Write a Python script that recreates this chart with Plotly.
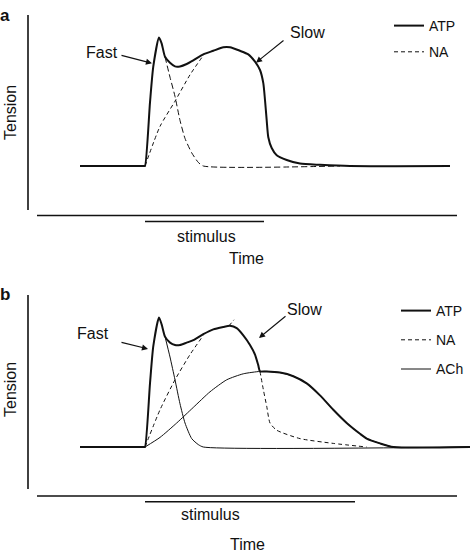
import plotly.graph_objects as go

# ---------------- data (time in arbitrary units, 0 = stimulus onset; tension in arbitrary units) -------------
# Panel a
a_total_t = [-6.5, -0.1, 0, 0.5, 0.83, 1.4, 1.67, 2.0, 2.5, 3.0, 3.5, 4.17, 4.83, 5.83, 6.83, 7.83, 8.5, 9.5,
             10.33, 11.0, 11.5, 11.83, 12.0, 12.17, 12.33, 12.67, 13.17, 14.17, 15.5, 17.5, 20.5, 30.5]
a_total_y = [0, 0, 0, 0.53, 0.83, 1.07, 1.02, 0.91, 0.86, 0.83, 0.83, 0.85, 0.88, 0.93, 0.96, 0.99, 0.99, 0.96,
             0.93, 0.87, 0.80, 0.69, 0.55, 0.38, 0.24, 0.15, 0.09, 0.05, 0.02, 0.01, 0, 0]
a_na_t = [0, 1.5, 3.0, 4.5, 5.9]
a_na_y = [0, 0.33, 0.54, 0.76, 0.93]
a_fast_t = [2.0, 2.5, 3.0, 3.5, 4.0, 4.67, 5.33, 5.83, 19.5]
a_fast_y = [0.91, 0.74, 0.58, 0.38, 0.23, 0.11, 0.03, 0, 0]
a_stim = [0, 11.9]

# Panel b
b_total_t = [-6.5, -0.1, 0, 0.5, 0.83, 1.4, 1.67, 2.0, 2.5, 3.0, 3.5, 4.17, 4.83, 5.83, 6.83, 7.83, 8.5, 9.17,
             9.83, 10.5, 11.0, 11.33, 11.5, 12.17, 13.5, 14.83, 16.17, 17.5, 18.83, 20.17, 21.5, 22.17,
             23.5, 24.83, 32.5]
b_total_y = [0, 0, 0, 0.53, 0.84, 1.08, 1.02, 0.92, 0.87, 0.85, 0.85, 0.87, 0.89, 0.94, 0.98, 1.00, 1.01, 0.99,
             0.93, 0.85, 0.77, 0.68, 0.63, 0.63, 0.62, 0.59, 0.53, 0.43, 0.31, 0.20, 0.11, 0.07,
             0.03, 0, 0]
b_na_t = [0, 1.5, 3.0, 4.5, 5.83, None, 8.4, 8.9, None,
          11.5, 11.83, 12.17, 12.5, 13.17, 15.5, 18.83, 22.17]
b_na_y = [0, 0.31, 0.56, 0.77, 0.93, None, 1.01, 1.06, None,
          0.63, 0.48, 0.34, 0.20, 0.14, 0.07, 0.03, 0]
b_ach_t = [0, 1.5, 3.17, 4.83, 6.5, 8.17, 9.83, 11.5, 12.17, 13.5, 14.83, 16.17, 17.5, 18.83, 20.17,
           21.5, 22.17, 23.5, 24.83, 32.5]
b_ach_y = [0, 0.08, 0.20, 0.33, 0.46, 0.56, 0.61, 0.63, 0.63, 0.62, 0.59, 0.53, 0.43, 0.31, 0.20,
           0.11, 0.07, 0.03, 0, 0]
b_fast_t = [2.0, 2.5, 3.0, 3.5, 4.0, 4.67, 5.33, 5.83, 32.5]
b_fast_y = [0.92, 0.75, 0.56, 0.36, 0.20, 0.07, 0.02, 0, 0]
b_stim = [0, 21.0]

# ---------------- figure -------------
W, H = 472, 554
FONT = "Liberation Sans, Arial, sans-serif"
BLACK = "#111111"


def px(x):
    return x / W


def py(y):
    return 1 - y / H


fig = go.Figure()

SM = 0.6
# panel a traces
fig.add_trace(go.Scatter(x=a_total_t, y=a_total_y, mode="lines", name="ATP",
                         line=dict(color=BLACK, width=2, shape="spline", smoothing=SM),
                         xaxis="x", yaxis="y", legend="legend", legendgroup="a1"))
fig.add_trace(go.Scatter(x=a_na_t, y=a_na_y, mode="lines", name="NA",
                         line=dict(color=BLACK, width=1, dash="4px,3px", shape="spline", smoothing=SM),
                         xaxis="x", yaxis="y", legend="legend", legendgroup="a2"))
fig.add_trace(go.Scatter(x=a_fast_t, y=a_fast_y, mode="lines", name="fast", showlegend=False,
                         line=dict(color=BLACK, width=1, dash="6px,3px", shape="spline", smoothing=SM),
                         xaxis="x", yaxis="y"))

# panel b traces
fig.add_trace(go.Scatter(x=b_fast_t, y=b_fast_y, mode="lines", name="fast", showlegend=False,
                         line=dict(color=BLACK, width=1, shape="spline", smoothing=SM),
                         xaxis="x2", yaxis="y2"))
fig.add_trace(go.Scatter(x=b_total_t, y=b_total_y, mode="lines", name="ATP",
                         line=dict(color=BLACK, width=2, shape="spline", smoothing=SM),
                         xaxis="x2", yaxis="y2", legend="legend2", legendgroup="b1"))
fig.add_trace(go.Scatter(x=b_na_t, y=b_na_y, mode="lines", name="NA", connectgaps=False,
                         line=dict(color=BLACK, width=1, dash="4px,3px", shape="spline", smoothing=SM),
                         xaxis="x2", yaxis="y2", legend="legend2", legendgroup="b2"))
fig.add_trace(go.Scatter(x=b_ach_t, y=b_ach_y, mode="lines", name="ACh",
                         line=dict(color=BLACK, width=1, shape="spline", smoothing=SM),
                         xaxis="x2", yaxis="y2", legend="legend2", legendgroup="b3"))

ax_common = dict(showgrid=False, zeroline=False, showticklabels=False, showline=False, ticks="",
                 fixedrange=True)
fig.update_layout(
    width=W, height=H,
    margin=dict(l=0, r=0, t=0, b=0),
    paper_bgcolor="white", plot_bgcolor="rgba(0,0,0,0)",
    font=dict(family=FONT, color=BLACK, size=16),
    xaxis=dict(domain=[0, 1], range=[-14.5, 32.7], anchor="y", **ax_common),
    yaxis=dict(domain=[0.5, 1], range=[-0.925, 1.3833], anchor="x", **ax_common),
    xaxis2=dict(domain=[0, 1], range=[-14.5, 32.7], anchor="y2", **ax_common),
    yaxis2=dict(domain=[0, 0.5], range=[-0.8917, 1.4167], anchor="x2", **ax_common),
    legend=dict(x=px(389), y=py(10), xanchor="left", yanchor="top", bgcolor="rgba(0,0,0,0)",
                font=dict(size=14, family=FONT), traceorder="grouped", tracegroupgap=5),
    legend2=dict(x=px(396), y=py(295), xanchor="left", yanchor="top", bgcolor="rgba(0,0,0,0)",
                 font=dict(size=14, family=FONT), traceorder="grouped", tracegroupgap=8),
    showlegend=True,
    hovermode=False,
)

shapes = []
# axis lines (decoration)
for (yl0, yl1, xl_y) in [(15, 210, 215.5), (295, 489, 496)]:
    shapes.append(dict(type="line", xref="paper", yref="paper", x0=px(28), x1=px(28),
                       y0=py(yl0), y1=py(yl1), line=dict(color=BLACK, width=1.6)))
    shapes.append(dict(type="line", xref="paper", yref="paper", x0=px(37), x1=px(457),
                       y0=py(xl_y), y1=py(xl_y), line=dict(color=BLACK, width=1.6)))
# stimulus bars
shapes.append(dict(type="line", xref="x", yref="paper", x0=a_stim[0], x1=a_stim[1],
                   y0=py(221.5), y1=py(221.5), line=dict(color=BLACK, width=1.6)))
shapes.append(dict(type="line", xref="x2", yref="paper", x0=b_stim[0], x1=b_stim[1],
                   y0=py(501.7), y1=py(501.7), line=dict(color=BLACK, width=1.6)))
fig.update_layout(shapes=shapes)

ann = []


def text(x, y, s, size=16, bold=False, angle=0):
    ann.append(dict(xref="paper", yref="paper", x=px(x), y=py(y), text=f"<b>{s}</b>" if bold else s,
                    showarrow=False, xanchor="center", yanchor="middle", textangle=angle,
                    font=dict(size=size, family=FONT, color=BLACK)))


text(5, 15, "a", size=17, bold=True)
text(5, 294, "b", size=17, bold=True)
text(10, 113, "Tension", angle=-90)
text(10, 390, "Tension", angle=-90)
text(206, 237, "stimulus")
text(210, 514, "stimulus")
text(246, 258, "Time")
text(247, 544, "Time")
text(102, 52, "Fast")
text(307, 32, "Slow")
text(93, 333, "Fast")
text(304, 309, "Slow")


def arrow(xr, yr, x0, y0, x1, y1):
    ann.append(dict(xref=xr, yref=yr, axref=xr, ayref=yr, x=x1, y=y1, ax=x0, ay=y0, text="",
                    showarrow=True, arrowhead=2, arrowsize=1.1, arrowwidth=1.1, arrowcolor=BLACK,
                    standoff=0, startstandoff=0))


arrow("x", "y", -2.5, 0.925, 0.7, 0.856)
arrow("x", "y", 14.0, 1.056, 11.1, 0.861)
arrow("x2", "y2", -2.5, 0.875, 0.3, 0.817)
arrow("x2", "y2", 14.2, 1.10, 11.4, 0.908)

fig.update_layout(annotations=ann)

fig.write_html("out.html", config={"displayModeBar": False, "staticPlot": True},
               post_script="document.body.style.margin='0';document.body.style.padding='0';"
                           "window.dispatchEvent(new Event('resize'));")
